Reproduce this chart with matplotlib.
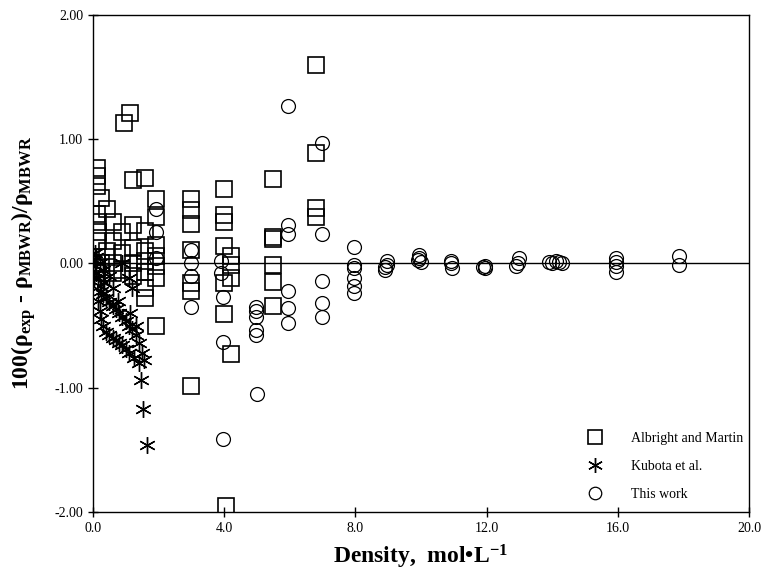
import matplotlib.pyplot as plt

plt.rcParams['font.family'] = ['Liberation Serif', 'DejaVu Serif']
plt.rcParams['mathtext.fontset'] = 'custom'
plt.rcParams['mathtext.rm'] = 'Liberation Serif'
plt.rcParams['mathtext.bf'] = 'Liberation Serif:bold'
plt.rcParams['mathtext.it'] = 'Liberation Serif:italic'

# Albright and Martin (density, deviation)
am_x = [0.12, 0.12, 0.12, 0.12, 0.15, 0.15, 0.15, 0.12, 0.12, 0.25, 0.25, 0.42, 0.42,
        0.6, 0.6, 0.6, 0.6, 0.88, 0.88, 0.88, 0.95, 1.13, 1.22, 1.22, 1.22, 1.22, 1.22,
        1.6, 1.6, 1.6, 1.6, 1.6, 1.6, 1.6, 1.92, 1.92, 1.92, 1.92, 1.92, 1.92, 1.92,
        2.99, 2.99, 2.99, 2.99, 2.99, 2.99, 2.99,
        4.0, 4.0, 4.0, 4.0, 4.2, 4.2, 4.0, 4.2, 4.0, 4.2, 4.05,
        5.5, 5.5, 5.5, 5.5, 5.5, 5.5,
        6.8, 6.8, 6.8, 6.8]
am_y = [0.77, 0.70, 0.62, 0.40, 0.33, 0.25, 0.18, 0.05, -0.04, 0.53, 0.0, 0.44, 0.10,
        0.33, 0.18, 0.0, -0.08, 0.25, 0.08, -0.05, 1.13, 1.21, 0.67, 0.31, 0.12, 0.0, -0.1,
        0.69, 0.26, 0.02, -0.07, -0.2, -0.28, 0.1, 0.52, 0.37, 0.15, 0.06, -0.02, -0.12, -0.5,
        0.52, 0.43, 0.32, 0.11, -0.16, -0.22, -0.99,
        0.6, 0.39, 0.33, 0.14, 0.06, -0.01, -0.16, -0.12, -0.41, -0.73, -1.95,
        0.68, 0.2, -0.01, -0.15, -0.34, 0.21,
        1.6, 0.89, 0.45, 0.37]

# Kubota et al.
ku_x = [0.05, 0.1, 0.05, 0.1, 0.15, 0.2, 0.25, 0.3, 0.4, 0.5, 0.6, 0.7, 0.8, 0.9,
        1.0, 1.1, 1.2, 1.3, 1.4, 1.5, 1.55, 1.45, 1.52, 1.65,
        0.15, 0.2, 0.25, 0.3, 0.4, 0.5, 0.6, 0.7, 0.8, 0.9, 1.0, 1.1, 1.25, 1.4,
        0.0, 0.02, 0.3, 0.5, 0.9, 1.1, 1.2, 0.6, 0.75, 0.2, 0.35, 1.12, 1.3]
ku_y = [0.08, 0.05, -0.02, -0.08, -0.12, -0.18, -0.22, -0.25, -0.28, -0.31, -0.34, -0.37,
        -0.4, -0.43, -0.46, -0.5, -0.53, -0.58, -0.64, -0.72, -0.78, -0.94, -1.17, -1.46,
        -0.3, -0.38, -0.45, -0.5, -0.55, -0.58, -0.6, -0.62, -0.64, -0.66, -0.69, -0.72,
        -0.76, -0.8,
        0.02, -0.12, -0.05, -0.1, 0.0, -0.12, -0.2, -0.2, -0.3, 0.0, -0.15, -0.4, -0.5]

# This work
tw_x = [1.92, 1.92, 1.92,
        2.99, 2.99, 2.99, 2.99,
        3.9, 3.9, 3.95, 3.95, 3.95,
        4.97, 4.97, 4.97, 4.97, 4.97, 5.0,
        5.95, 5.95, 5.95, 5.95, 5.95, 5.95,
        6.98, 6.98, 6.98, 6.98, 6.98,
        7.95, 7.95, 7.95, 7.95, 7.95, 7.95,
        8.95, 8.95, 8.9, 8.9,
        9.95, 9.95, 10.0, 9.9,
        10.9, 10.9, 10.95,
        11.95, 11.95, 11.9,
        13.0, 12.95, 12.9,
        13.9, 14.0, 14.1, 14.2, 14.3,
        15.95, 15.95, 15.95, 15.95,
        17.85, 17.85]
tw_y = [0.44, 0.25, 0.04,
        0.11, 0.0, -0.1, -0.35,
        0.02, -0.08, -0.27, -0.63, -1.41,
        -0.35, -0.38, -0.43, -0.54, -0.58, -1.05,
        1.27, 0.31, 0.24, -0.22, -0.36, -0.48,
        0.97, 0.24, -0.14, -0.32, -0.43,
        0.13, -0.01, -0.04, -0.12, -0.18, -0.24,
        0.02, -0.01, -0.05, -0.03,
        0.07, 0.04, 0.01, 0.03,
        0.02, 0.0, -0.04,
        -0.02, -0.04, -0.03,
        0.04, 0.0, -0.02,
        0.01, 0.0, 0.02, 0.01, 0.0,
        0.04, 0.01, -0.02, -0.07,
        0.06, -0.01]

fig = plt.figure(figsize=(7.62, 5.77), dpi=100)
ax = fig.add_axes([0.122, 0.113, 0.861, 0.861])

ax.axhline(0, color='black', lw=1.0, zorder=1)
ax.plot(am_x, am_y, 's', ms=11, mfc='none', mec='black', mew=1.2, label='Albright and Martin', zorder=3)
ax.plot(ku_x, ku_y, linestyle='none', marker=(6, 2, 0), ms=12, mec='black', mew=1.0, label='Kubota et al.', zorder=3)
ax.plot(tw_x, tw_y, 'o', ms=10, mfc='none', mec='black', mew=0.9, label='This work', zorder=3)

ax.set_xlim(0, 20)
ax.set_ylim(-2, 2)
ax.set_xticks([0, 4, 8, 12, 16, 20])
ax.set_xticklabels(['0.0', '4.0', '8.0', '12.0', '16.0', '20.0'])
ax.set_yticks([-2, -1, 0, 1, 2])
ax.set_yticklabels(['-2.00', '-1.00', '0.00', '1.00', '2.00'])
ax.tick_params(direction='inout', length=7, width=1, labelsize=10)
for s in ax.spines.values():
    s.set_linewidth(1.0)

ax.set_xlabel('Density,  mol•L$^{\\mathbf{-1}}$', fontsize=17, fontweight='bold', labelpad=6)
ax.set_ylabel('100(ρ$_{\\mathbf{exp}}$ - ρ$_{\\mathbf{MBWR}}$)/ρ$_{\\mathbf{MBWR}}$',
              fontsize=17, fontweight='bold', labelpad=12)

ax.legend(loc='lower right', bbox_to_anchor=(1.016, -0.012), frameon=False, fontsize=10,
          handletextpad=1.6, labelspacing=1.1, markerscale=0.9, borderaxespad=0.8)

fig.savefig('out.png', dpi=100)
